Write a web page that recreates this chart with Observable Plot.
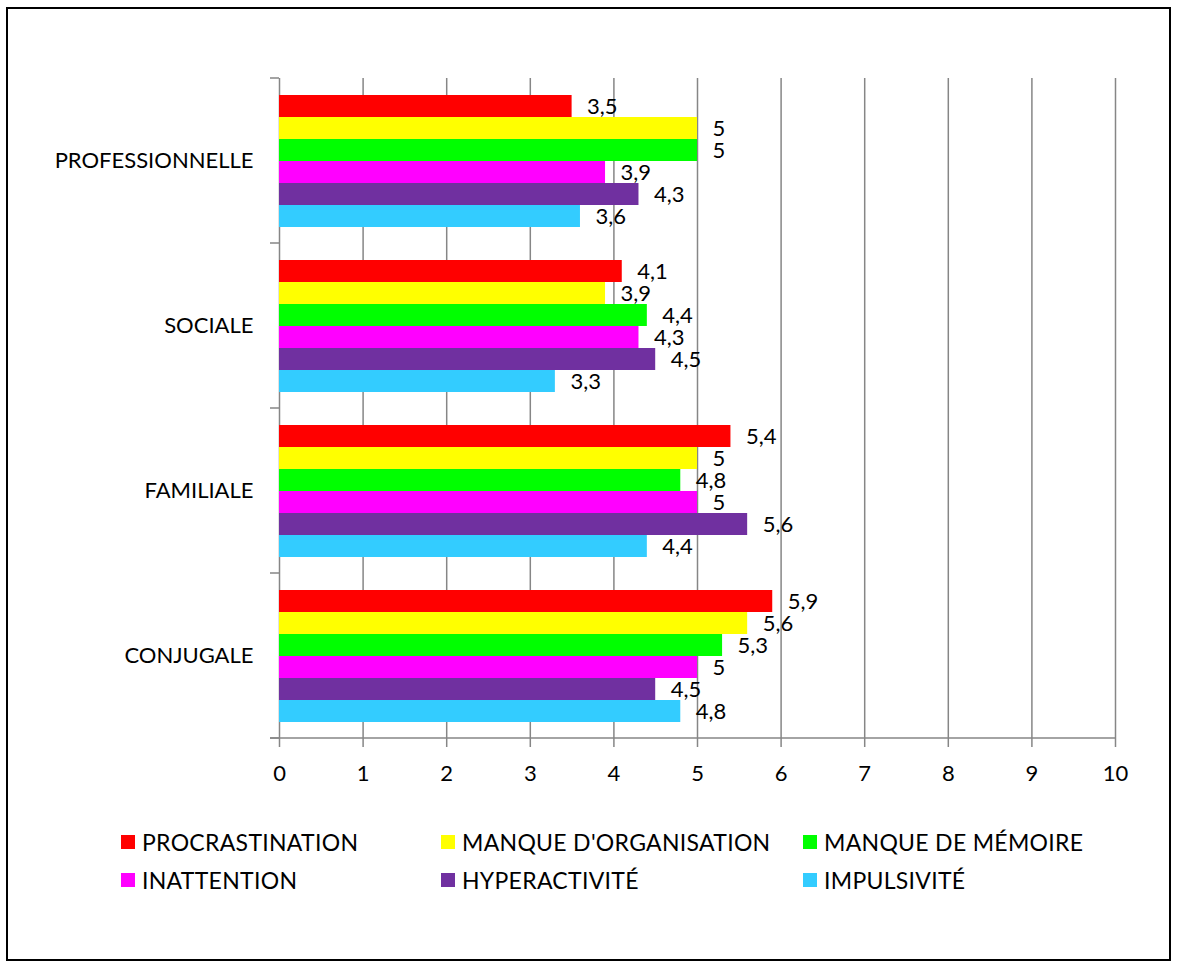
<!DOCTYPE html>
<html><head><meta charset="utf-8">
<script src="https://cdn.jsdelivr.net/npm/d3@7"></script>
<script src="https://cdn.jsdelivr.net/npm/@observablehq/plot@0.6"></script>
<style>
body{margin:0;background:#fff;}
#wrap{position:relative;width:1178px;height:969px;font-family:Lato, sans-serif;}
#border{position:absolute;left:6px;top:7px;width:1161px;height:950px;border:2px solid #000;}
#chart{position:absolute;left:0;top:0;}
#legend{position:absolute;left:121px;top:823px;display:grid;grid-template-columns:320px 362px auto;}
.item{display:flex;align-items:center;font-size:23px;letter-spacing:0.3px;height:38px;color:#000;white-space:nowrap;}
.sw{width:14px;height:14px;margin-right:7px;flex:none;}
</style>
</head><body>
<div id="wrap"><div id="border"></div><div id="chart"></div><div id="legend"></div></div>
<script>
const categories = ["PROFESSIONNELLE", "SOCIALE", "FAMILIALE", "CONJUGALE"];
const series = ["PROCRASTINATION", "MANQUE D'ORGANISATION", "MANQUE DE MÉMOIRE", "INATTENTION", "HYPERACTIVITÉ", "IMPULSIVITÉ"];
const colors = ["#FF0000", "#FFFF00", "#00FF00", "#FF00FF", "#7030A0", "#33CCFF"];
const procrastination = [3.5, 4.1, 5.4, 5.9];
const organisation = [5, 3.9, 5, 5.6];
const memoire = [5, 4.4, 4.8, 5.3];
const inattention = [3.9, 4.3, 5, 5];
const hyperactivite = [4.3, 4.5, 5.6, 4.5];
const impulsivite = [3.6, 3.3, 4.4, 4.8];
const xTicks = [0, 1, 2, 3, 4, 5, 6, 7, 8, 9, 10];

const valuesBySeries = [procrastination, organisation, memoire, inattention, hyperactivite, impulsivite];
const data = [];
categories.forEach((c, i) => series.forEach((s, j) => data.push({category: c, series: s, value: valuesBySeries[j][i]})));

const fmt = v => String(v).replace(".", ",");
const grid = "#868686";

const plot = Plot.plot({
  width: 1178, height: 800,
  marginLeft: 279, marginRight: 63, marginTop: 77, marginBottom: 62,
  style: {fontFamily: "Lato, sans-serif", fontSize: "22px", color: "#000", background: "transparent", overflow: "visible"},
  x: {domain: [0, 10]},
  y: {domain: series, paddingInner: 0, paddingOuter: 0.75, axis: null},
  fy: {domain: categories, padding: 0},
  color: {domain: series, range: colors},
  marks: [
    Plot.ruleX(xTicks, {stroke: grid, strokeWidth: 1.5}),
    Plot.barX(data, {x: "value", y: "series", fy: "category", fill: "series"}),
    Plot.text(data, {x: "value", y: "series", fy: "category", text: d => fmt(d.value), textAnchor: "start", dx: 15, fill: "#000", fontSize: 22}),
    Plot.axisX(xTicks, {tickSize: 9, tickPadding: 18, label: null, stroke: grid, strokeWidth: 1.5, fill: "#000", fontSize: 22, tickFormat: d => String(d)}),
    Plot.axisFy({anchor: "left", tickSize: 0, tickPadding: 26, label: null, fill: "#000", fontSize: 22})
  ]
});
document.getElementById("chart").appendChild(plot);

// axis line and category boundary ticks drawn from the plot's own scales
const sx = plot.scale("x");
const sfy = plot.scale("fy");
const svg = d3.select(plot);
const x0 = sx.apply(0), x1 = sx.apply(10);
const bounds = categories.map(c => sfy.apply(c));
bounds.push(sfy.apply(categories[categories.length - 1]) + sfy.bandwidth);
const g = svg.append("g").attr("stroke", grid).attr("stroke-width", 1.5);
bounds.forEach(b => g.append("line").attr("x1", x0 - 9).attr("x2", x0).attr("y1", b).attr("y2", b));
g.append("line").attr("x1", x0 - 9).attr("x2", x1).attr("y1", bounds[bounds.length - 1]).attr("y2", bounds[bounds.length - 1]);

// legend
const leg = d3.select("#legend");
series.forEach((s, i) => {
  const it = leg.append("div").attr("class", "item");
  it.append("div").attr("class", "sw").style("background", colors[i]);
  it.append("span").text(s);
});
</script>
</body></html>
